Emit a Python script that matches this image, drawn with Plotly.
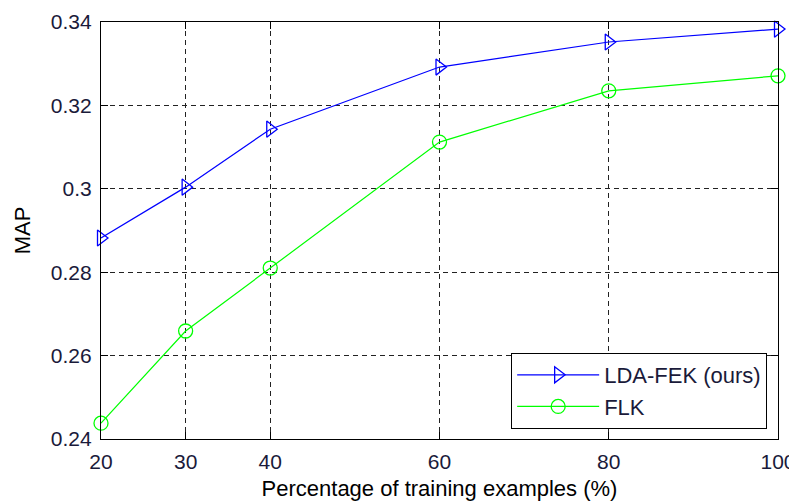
import plotly.graph_objects as go

x_pct = [20, 30, 40, 60, 80, 100]
lda_fek = [0.2882, 0.3004, 0.3143, 0.3292, 0.3352, 0.3383]
flk = [0.2438, 0.2659, 0.2810, 0.3112, 0.3235, 0.3271]
x_ticks = [20, 30, 40, 60, 80, 100]
y_ticks = [0.24, 0.26, 0.28, 0.30, 0.32, 0.34]
y_tick_text = ["0.24", "0.26", "0.28", "0.3", "0.32", "0.34"]

FONT = "Liberation Sans, Arial, sans-serif"
FS = 21
FS_T = 22

fig = go.Figure()
fig.add_trace(go.Scatter(
    x=x_pct, y=lda_fek, name="LDA-FEK (ours)", mode="lines+markers",
    line=dict(color="#0000FF", width=1.2),
    marker=dict(symbol="triangle-right-open", size=14, color="#0000FF", line=dict(width=1.3)),
    cliponaxis=False,
))
fig.add_trace(go.Scatter(
    x=x_pct, y=flk, name="FLK", mode="lines+markers",
    line=dict(color="#00FF00", width=1.2),
    marker=dict(symbol="circle-open", size=14, color="#00FF00", line=dict(width=1.3)),
    cliponaxis=False,
))

axis_common = dict(
    showline=True, linecolor="black", linewidth=1.2, mirror="ticks",
    ticks="inside", ticklen=7, tickcolor="black",
    showgrid=True, gridcolor="#222222", griddash="5px,4px", gridwidth=1,
    zeroline=False, automargin=False, ticklabelstandoff=4,
    tickfont=dict(family=FONT, size=FS, color="#1a1a3a"),
)

fig.update_xaxes(
    range=[20, 100], tickvals=x_ticks,
    title=dict(text="Percentage of training examples (%)", font=dict(family=FONT, size=FS_T, color="black"), standoff=8),
    **axis_common,
)
fig.update_yaxes(
    range=[0.24, 0.34], tickvals=y_ticks, ticktext=y_tick_text,
    title=dict(text="MAP", font=dict(family=FONT, size=FS_T, color="black"), standoff=14),
    **axis_common,
)

fig.update_layout(
    template="none",
    width=789, height=494,
    margin=dict(l=93, r=19, t=14, b=63),
    paper_bgcolor="white", plot_bgcolor="white",
    showlegend=True,
    legend=dict(
        x=0.984, y=0.024, xanchor="right", yanchor="bottom",
        bgcolor="white", bordercolor="black", borderwidth=1,
        font=dict(family=FONT, size=FS_T, color="#1a1a3a"),
        itemwidth=82, tracegroupgap=0,
    ),
    font=dict(family=FONT),
)

fig.write_html("out.html")
